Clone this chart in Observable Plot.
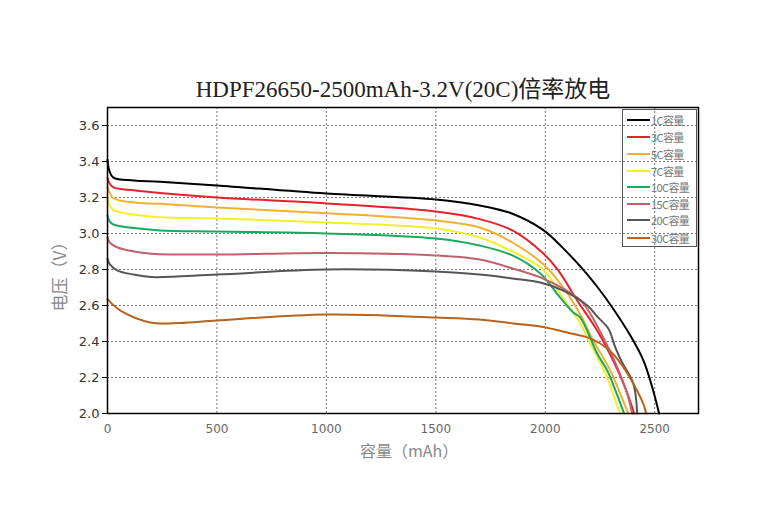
<!DOCTYPE html>
<html><head><meta charset="utf-8">
<script src="https://cdn.jsdelivr.net/npm/d3@7"></script>
<script src="https://cdn.jsdelivr.net/npm/@observablehq/plot@0.6"></script>
<style>
body{margin:0;background:#fff;}
#wrap{position:relative;width:758px;height:512px;}
#legend{position:absolute;left:622px;top:109px;width:75px;height:138px;border:1px solid #555;box-sizing:border-box;font-family:"Noto Sans CJK SC",sans-serif;font-size:11px;color:#777;}
.row{position:absolute;left:4px;height:14px;display:flex;align-items:center;white-space:nowrap;letter-spacing:-0.6px}
.sw{width:23px;height:2px;margin-right:1px}
</style></head>
<body><div id="wrap"><div id="legend"></div></div>
<script>
const title = "HDPF26650-2500mAh-3.2V(20C)倍率放电";
const xLabel = "容量（mAh）";
const yLabel = "电压（V）";
const series = ["1C容量","3C容量","5C容量","7C容量","10C容量","15C容量","20C容量","30C容量"];
const colors = ["#000000","#e8202a","#f0b030","#f4ee30","#19a85c","#c0626a","#555555","#b8621e"];
const xTicks = [0,500,1000,1500,2000,2500];
const yTicks = [2.0,2.2,2.4,2.6,2.8,3.0,3.2,3.4,3.6];

const c1 = [0,8,27,120,240,500,1000,1500,1700,1850,1990,2080,2180,2240,2300,2390,2450,2490,2520];
const v1 = [3.41,3.35,3.31,3.295,3.288,3.267,3.222,3.189,3.156,3.11,3.02,2.92,2.79,2.70,2.60,2.43,2.29,2.14,2.0];
const c3 = [0,8,27,120,240,500,1000,1500,1700,1850,1990,2060,2146,2237,2310,2365,2406];
const v3 = [3.31,3.28,3.256,3.24,3.225,3.2,3.167,3.122,3.08,3.017,2.89,2.794,2.628,2.461,2.294,2.144,2.0];
const c5 = [0,8,27,120,240,500,1000,1500,1700,1850,1990,2082,2160,2219,2297,2342,2379];
const v5 = [3.26,3.23,3.196,3.172,3.165,3.144,3.113,3.072,3.033,2.95,2.83,2.7,2.55,2.406,2.239,2.111,2.0];
const c7 = [0,8,27,120,240,500,1000,1500,1700,1850,1990,2082,2160,2205,2240,2283,2312,2342];
const v7 = [3.2,3.16,3.13,3.105,3.09,3.083,3.061,3.028,2.978,2.9,2.8,2.64,2.5,2.389,2.31,2.2,2.1,2.0];
const c10 = [0,8,27,120,240,500,1000,1500,1700,1850,1977,2068,2128,2160,2205,2237,2283,2320,2360];
const v10 = [3.1,3.07,3.05,3.03,3.017,3.011,3.0,2.972,2.933,2.878,2.778,2.644,2.561,2.533,2.422,2.333,2.239,2.13,2.0];
const c15 = [0,10,46,120,200,500,1000,1500,1700,1850,1977,2082,2160,2205,2265,2329,2374,2397];
const v15 = [2.978,2.95,2.922,2.9,2.888,2.883,2.892,2.878,2.855,2.806,2.756,2.694,2.63,2.556,2.422,2.256,2.111,2.0];
const c20 = [0,10,46,120,200,500,1000,1500,1700,1850,1977,2082,2192,2242,2288,2320,2351,2402,2420];
const v20 = [2.86,2.83,2.794,2.772,2.758,2.772,2.8,2.789,2.772,2.75,2.728,2.683,2.6,2.533,2.472,2.367,2.283,2.167,2.0];
const c30 = [0,20,59,196,330,500,1000,1500,1700,1854,1977,2100,2205,2283,2342,2402,2447,2461];
const v30 = [2.635,2.61,2.572,2.506,2.503,2.517,2.55,2.533,2.522,2.5,2.483,2.45,2.417,2.361,2.283,2.167,2.056,2.0];

const caps = [c1,c3,c5,c7,c10,c15,c20,c30];
const volts = [v1,v3,v5,v7,v10,v15,v20,v30];

const lines = series.map((name,i) => Plot.line(
  caps[i].map((c,j) => ({cap:c, v:volts[i][j]})),
  {x:"cap", y:"v", stroke:colors[i], strokeWidth:2, curve:"catmull-rom"}
));

const chart = Plot.plot({
  width:758, height:512,
  marginLeft:107, marginRight:60, marginTop:107, marginBottom:99,
  style:{fontFamily:"DejaVu Sans, sans-serif", background:"#fff"},
  x:{domain:[0,2700]},
  y:{domain:[2.0,3.7]},
  marks:[
    Plot.gridX(xTicks.filter(d=>d>0), {stroke:"#777", strokeOpacity:1, strokeDasharray:"2,2"}),
    Plot.gridY(yTicks.filter(d=>d>2.0), {stroke:"#777", strokeOpacity:1, strokeDasharray:"2,2"}),
    Plot.axisX(xTicks, {tickSize:0, tickPadding:11, fontSize:12, fill:"#666", tickFormat:"d", label:null}),
    Plot.axisY(yTicks, {tickSize:5, tickPadding:3, fontSize:13, fill:"#333", tickFormat:".1f", label:null}),
    ...lines,
    Plot.frame({stroke:"#000", strokeWidth:1.5}),
    Plot.text([title], {frameAnchor:"top", dy:-27, fontSize:23, fontFamily:"Liberation Serif, Noto Sans CJK SC, serif", fill:"#222", letterSpacing:1.5}),
    Plot.text([xLabel], {frameAnchor:"bottom", dy:43, dx:6, fontSize:16, fontFamily:"Noto Sans CJK SC, sans-serif", fill:"#888", letterSpacing:2}),
    Plot.text([yLabel], {frameAnchor:"left", textAnchor:"middle", dx:-47, dy:12, rotate:-90, fontSize:17, fontFamily:"Noto Sans CJK SC, sans-serif", fill:"#888", letterSpacing:1.5})
  ]
});
document.getElementById("wrap").prepend(chart);

const lg = document.getElementById("legend");
const rowCenters = [10,27,44,61,77,94,110,128];
series.forEach((name,i) => {
  const r = document.createElement("div");
  r.className = "row";
  r.style.top = (rowCenters[i]-7) + "px";
  const sw = document.createElement("span");
  sw.className = "sw";
  sw.style.background = colors[i];
  const t = document.createElement("span");
  t.textContent = name;
  r.appendChild(sw); r.appendChild(t);
  lg.appendChild(r);
});
</script>
</body></html>
